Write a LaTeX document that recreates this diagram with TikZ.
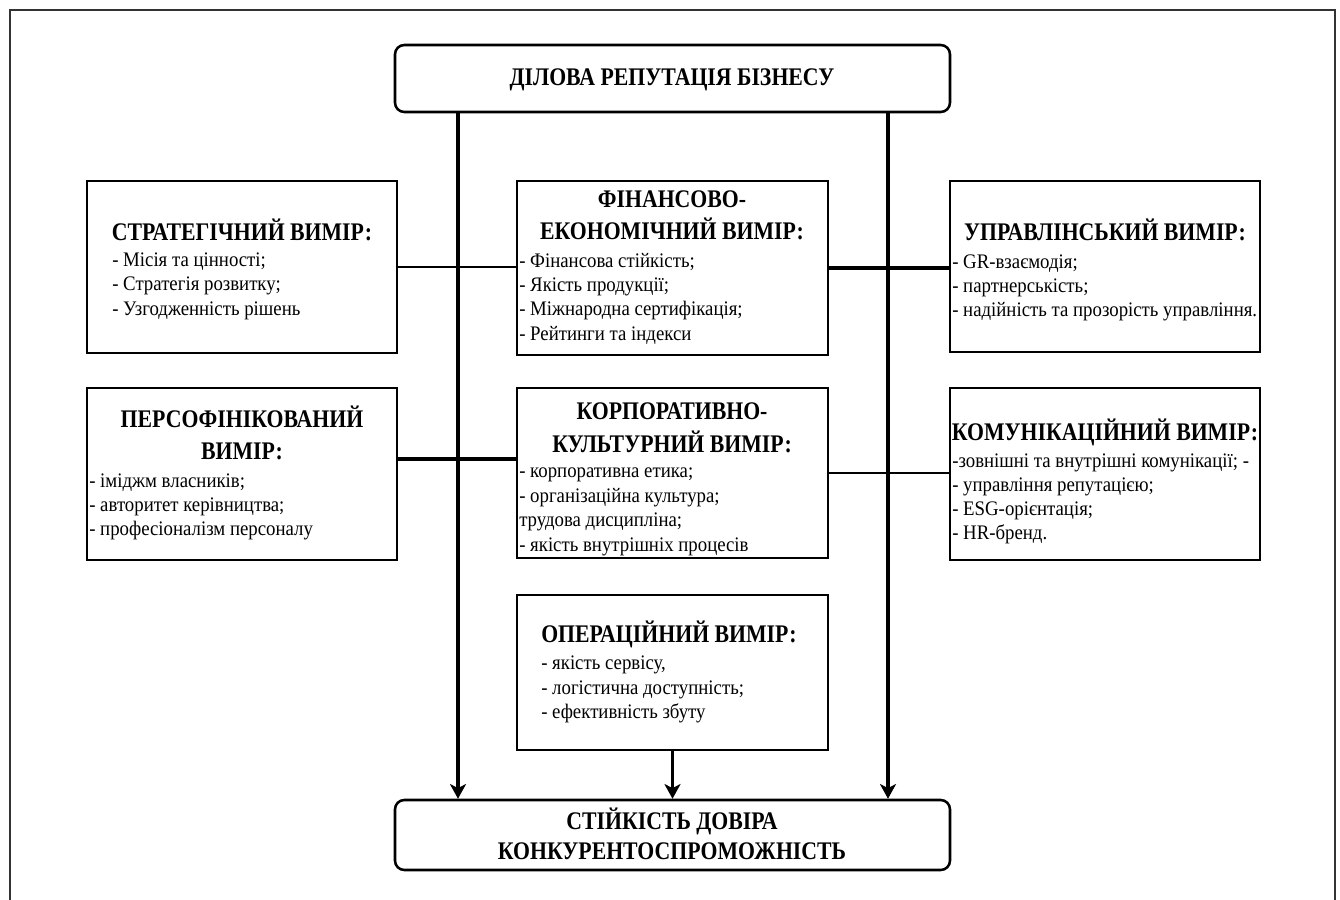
\documentclass[tikz,border=0pt]{standalone}
\usepackage{fontspec}
\setmainfont{Liberation Serif}
\newfontfamily\tfont[FakeStretch=0.86]{Liberation Serif}
\newfontfamily\ifont[FakeStretch=0.91]{Liberation Serif}
\usetikzlibrary{arrows.meta,fit}
\begin{document}
\begin{tikzpicture}[x=0.75pt,y=-0.75pt,
  box/.style={draw, line width=1.9pt, inner sep=0pt},
  rbox/.style={box, rounded corners=7pt},
  ttl/.style={anchor=base, inner sep=0pt, font=\tfont\bfseries\fontsize{19}{22}\selectfont},
  ttlw/.style={ttl, anchor=base west},
  itm/.style={anchor=base west, inner sep=0pt, font=\ifont\fontsize{15.5}{18}\selectfont},
  vline/.style={line width=2.9pt, -{Stealth[length=11pt,width=12pt,inset=3pt]}},
  thinc/.style={line width=1.6pt},
  thickc/.style={line width=2.6pt},
  frame/.style={draw=black!80, line width=1.8pt}]
\useasboundingbox (0,0) rectangle (1340,900);
\draw[frame] (10,900) -- (10,10) -- (1335,10) -- (1335,900);

% boxes
\node[rbox, fit={(395,45) (950,112)}] (top) {};
\node[box, fit={(87,181) (397,353)}] (strat) {};
\node[box, fit={(517,181) (828,355)}] (fin) {};
\node[box, fit={(950,181) (1260,352)}] (mgmt) {};
\node[box, fit={(87,388) (397,560)}] (pers) {};
\node[box, fit={(517,388) (828,558)}] (corp) {};
\node[box, fit={(950,388) (1260,560)}] (comm) {};
\node[box, fit={(517,595) (828,750)}] (oper) {};
\node[rbox, fit={(395,800) (950,870)}] (bot) {};

% texts
\node[ttl] (topt) at (672,85) {ДІЛОВА РЕПУТАЦІЯ БІЗНЕСУ};

\node[ttl] (stt) at (242,240) {СТРАТЕГІЧНИЙ ВИМІР:};
\node[itm] (st1) at (112,266) {- Місія та цінності;};
\node[itm] (st2) at (112,290) {- Стратегія розвитку;};
\node[itm] (st3) at (112,315) {- Узгодженність рішень};

\node[ttl] (fit1) at (672,207) {ФІНАНСОВО-};
\node[ttl] (fit2) at (672,239) {ЕКОНОМІЧНИЙ ВИМІР:};
\node[itm] (fi1) at (519,267) {- Фінансова стійкість;};
\node[itm] (fi2) at (519,291) {- Якість продукції;};
\node[itm] (fi3) at (519,315) {- Міжнародна сертифікація;};
\node[itm] (fi4) at (519,340) {- Рейтинги та індекси};

\node[ttl] (mgt) at (1105,240) {УПРАВЛІНСЬКИЙ ВИМІР:};
\node[itm] (mg1) at (952,268) {- GR-взаємодія;};
\node[itm] (mg2) at (952,292) {- партнерськість;};
\node[itm] (mg3) at (952,316) {- надійність та прозорість управління.};

\node[ttl] (pet1) at (242,427) {ПЕРСОФІНІКОВАНИЙ};
\node[ttl] (pet2) at (242,459) {ВИМІР:};
\node[itm] (pe1) at (89,487) {- іміджм власників;};
\node[itm] (pe2) at (89,511) {- авторитет керівництва;};
\node[itm] (pe3) at (89,535) {- професіоналізм персоналу};

\node[ttl] (cot1) at (672,419) {КОРПОРАТИВНО-};
\node[ttl] (cot2) at (672,452) {КУЛЬТУРНИЙ ВИМІР:};
\node[itm] (co1) at (519,477) {- корпоративна етика;};
\node[itm] (co2) at (519,502) {- організаційна культура;};
\node[itm] (co3) at (519,526) {трудова дисципліна;};
\node[itm] (co4) at (519,551) {- якість внутрішніх процесів};

\node[ttl] (cmt) at (1105,440) {КОМУНІКАЦІЙНИЙ ВИМІР:};
\node[itm] (cm1) at (952,467) {-зовнішні та внутрішні комунікації; -};
\node[itm] (cm2) at (952,491) {- управління репутацією;};
\node[itm] (cm3) at (952,515) {- ESG-орієнтація;};
\node[itm] (cm4) at (952,539) {- HR-бренд.};

\node[ttlw] (opt) at (541,642) {ОПЕРАЦІЙНИЙ ВИМІР:};
\node[itm] (op1) at (541,669) {- якість сервісу,};
\node[itm] (op2) at (541,694) {- логістична доступність;};
\node[itm] (op3) at (541,718) {- ефективність збуту};

\node[ttl] (bt1) at (672,829) {СТІЙКІСТЬ ДОВІРА};
\node[ttl] (bt2) at (672,859) {КОНКУРЕНТОСПРОМОЖНІСТЬ};

% connectors
\coordinate (vl) at (458,0);
\coordinate (vr) at (888,0);
\coordinate (r2) at (0,459);
\draw[thinc] (strat.east) -- (strat.east -| fin.west);
\draw[thickc] (fin.east) -- (fin.east -| mgmt.west);
\draw[thickc] (pers.east |- r2) -- (corp.west |- r2);
\draw[thinc] (corp.east) -- (corp.east -| comm.west);
\draw[vline] (top.south -| vl) -- (bot.north -| vl);
\draw[vline] (top.south -| vr) -- (bot.north -| vr);
\draw[vline] (oper.south) -- (bot.north -| oper.south);
\end{tikzpicture}
\end{document}
